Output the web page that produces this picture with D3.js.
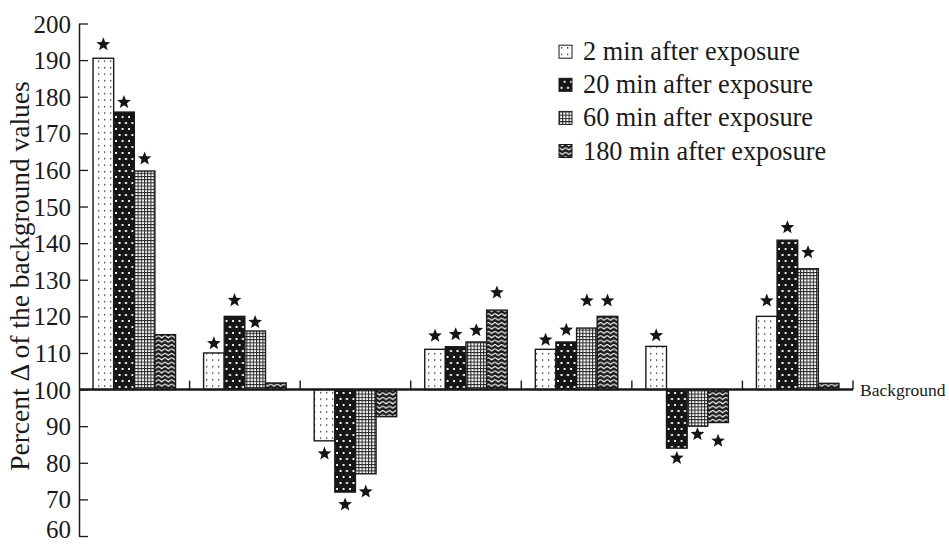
<!DOCTYPE html>
<html><head><meta charset="utf-8">
<script src="https://cdn.jsdelivr.net/npm/d3@7"></script>
<style>body{margin:0;background:#fff}svg{display:block}text{font-family:"Liberation Serif","Times New Roman",serif;fill:#1a1a1a}</style>
</head><body><svg id="c" width="949" height="544"></svg>
<script>
const groups = ["1","2","3","4","5","6","7"];
const seriesNames = ["2 min after exposure","20 min after exposure","60 min after exposure","180 min after exposure"];
const values2   = [190.5, 110, 86, 111, 111, 111.8, 120];
const values20  = [175.8, 120, 72, 111.7, 113, 84, 140.8];
const values60  = [159.7, 116, 77, 113, 116.8, 90, 133];
const values180 = [115, 101.8, 92.6, 121.7, 120, 91, 101.7];
const stars2    = [194.5, 112.8, 82.7, 114.9, 113.8, 115, 124.5];
const stars20   = [178.7, 124.6, 68.8, 115.3, 116.5, 81.5, 144.5];
const stars60   = [163.3, 118.6, 72.3, 116.4, 124.5, 88, 137.7];
const stars180  = [null, null, null, 126.7, 124.5, 86.2, null];
const yTicks = [60,70,80,90,100,110,120,130,140,150,160,170,180,190,200];
const baselineValue = 100;
const baselineLabel = "Background";
const yLabel = "Percent \u0394 of the background values";

const allValues = [values2, values20, values60, values180];
const allStars = [stars2, stars20, stars60, stars180];

const svg = d3.select("#c");
const defs = svg.append("defs");
// patterns
const p0 = defs.append("pattern").attr("id","pat0").attr("patternUnits","userSpaceOnUse").attr("width",6).attr("height",6.5);
p0.append("rect").attr("width",6).attr("height",6.5).attr("fill","#fff");
p0.append("rect").attr("x",2).attr("y",2).attr("width",1.3).attr("height",1.3).attr("fill","#222");
const p1 = defs.append("pattern").attr("id","pat1").attr("patternUnits","userSpaceOnUse").attr("width",6.5).attr("height",12);
p1.append("rect").attr("width",6.5).attr("height",12).attr("fill","#161616");
p1.append("rect").attr("x",1.5).attr("y",2).attr("width",2).attr("height",2).attr("fill","#fff");
p1.append("rect").attr("x",4.7).attr("y",8).attr("width",2).attr("height",2).attr("fill","#fff");
const p2 = defs.append("pattern").attr("id","pat2").attr("patternUnits","userSpaceOnUse").attr("width",3.2).attr("height",3.2);
p2.append("rect").attr("width",3.2).attr("height",3.2).attr("fill","#fff");
p2.append("rect").attr("x",0).attr("y",0).attr("width",1).attr("height",3.2).attr("fill","#222");
p2.append("rect").attr("x",0).attr("y",0).attr("width",3.2).attr("height",1).attr("fill","#222");
const p3 = defs.append("pattern").attr("id","pat3").attr("patternUnits","userSpaceOnUse").attr("width",6.6).attr("height",4.4);
p3.append("rect").attr("width",6.6).attr("height",4.4).attr("fill","#1a1a1a");
p3.append("path").attr("d","M-0.1,1 L3.3,3.4 L6.7,1").attr("fill","none").attr("stroke","#fff").attr("stroke-width",1.1);

const fills = ["url(#pat0)","url(#pat1)","url(#pat2)","url(#pat3)"];

const plotLeft = 79, plotRight = 853, plotTop = 23.5, plotBottom = 536;
const y = d3.scaleLinear().domain([60,200]).range([plotBottom, plotTop]);
const x0 = d3.scaleBand().domain(groups).range([plotLeft, plotRight]).paddingInner(0).paddingOuter(0);
const x1 = d3.scaleBand().domain(d3.range(4)).range([0, x0.bandwidth()]).paddingInner(0).paddingOuter(0.68);

// bars
const data = [];
groups.forEach((g,gi)=>{ for(let s=0;s<4;s++) data.push({g, s, v: allValues[s][gi], st: allStars[s][gi]}); });

svg.append("g").selectAll("rect").data(data).join("rect")
  .attr("x", d=>x0(d.g)+x1(d.s))
  .attr("width", x1.bandwidth())
  .attr("y", d=>y(Math.max(d.v, baselineValue)))
  .attr("height", d=>Math.abs(y(d.v)-y(baselineValue)))
  .attr("fill", d=>fills[d.s])
  .attr("stroke", "#1a1a1a").attr("stroke-width", 1.4);

// stars
function starPath(R, r){
  let p = [];
  for(let i=0;i<10;i++){
    const a = -Math.PI/2 + i*Math.PI/5;
    const rad = i%2===0 ? R : r;
    p.push([rad*Math.cos(a), rad*Math.sin(a)]);
  }
  return "M" + p.map(q=>q[0].toFixed(2)+","+q[1].toFixed(2)).join("L") + "Z";
}
const sp = starPath(7.2, 3.1);
svg.append("g").selectAll("path").data(data.filter(d=>d.st!==null)).join("path")
  .attr("d", sp)
  .attr("transform", d=>`translate(${x0(d.g)+x1(d.s)+x1.bandwidth()/2},${y(d.st)+0.8})`)
  .attr("fill","#151515");

// y axis
const yAxis = d3.axisLeft(y).tickValues(yTicks).tickSizeInner(-9).tickSizeOuter(0).tickPadding(8);
const ga = svg.append("g").attr("transform",`translate(${plotLeft},0)`).call(yAxis);
ga.attr("font-family", null);
ga.select(".domain").attr("stroke","#1a1a1a").attr("stroke-width",1.5);
ga.selectAll(".tick line").attr("stroke","#1a1a1a").attr("stroke-width",1.3);
ga.selectAll(".tick text").attr("font-size",25).attr("fill","#1a1a1a")
  .attr("dy", d => d === yTicks[0] ? "0.04em" : "0.34em");

// baseline
svg.append("line").attr("x1",plotLeft).attr("x2",plotRight).attr("y1",y(baselineValue)).attr("y2",y(baselineValue))
  .attr("stroke","#1a1a1a").attr("stroke-width",2.6);
const seps = groups.map(g=>x0(g)+x0.bandwidth()).filter(v=>v>plotLeft);
svg.append("g").selectAll("line").data(seps).join("line")
  .attr("x1",d=>d).attr("x2",d=>d).attr("y1",y(baselineValue)).attr("y2",y(baselineValue)-9)
  .attr("stroke","#1a1a1a").attr("stroke-width",1.4);
svg.append("text").attr("x",plotRight+7).attr("y",y(baselineValue)+6).attr("font-size",17.5).text(baselineLabel);

// y label
svg.append("text").attr("transform",`translate(28.5,276) rotate(-90)`).attr("text-anchor","middle")
  .attr("font-size",27.5).text(yLabel);

// legend
const legend = svg.append("g").selectAll("g").data(seriesNames).join("g")
  .attr("transform",(d,i)=>`translate(559,${51.7 + i*33.1})`);
legend.append("rect").attr("x",0).attr("y",-6.5).attr("width",13).attr("height",13)
  .attr("fill",(d,i)=>fills[i]).attr("stroke","#1a1a1a").attr("stroke-width",1);
legend.append("text").attr("x",24).attr("y",8.5).attr("font-size",26.3).text(d=>d);
</script></body></html>
